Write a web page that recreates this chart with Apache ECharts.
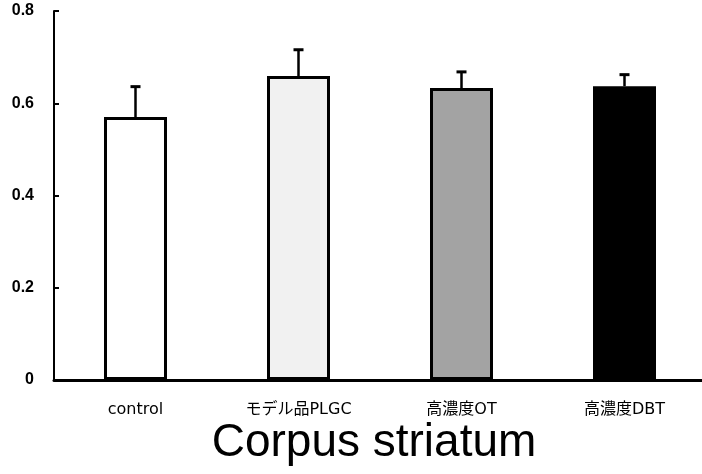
<!DOCTYPE html>
<meta charset="utf-8">
<title>Corpus striatum</title>
<style>
html, body { margin: 0; padding: 0; background: #fff; }
#main { width: 702px; height: 474px; }
</style>
<body>
<div id="main"></div>
<script src="https://cdn.jsdelivr.net/npm/echarts@6/dist/echarts.min.js"></script>
<script>
// data
var categories = ['control', 'モデル品PLGC', '高濃度OT', '高濃度DBT'];
var means = [0.570, 0.659, 0.633, 0.637];
var errTops = [0.636, 0.716, 0.668, 0.662];
var yTicks = [0, 0.2, 0.4, 0.6, 0.8];
var barFills = ['#ffffff', '#f1f1f1', '#a3a3a3', '#000000'];

var chart = echarts.init(document.getElementById('main'));

var option = {
  animation: false,
  backgroundColor: '#fff',
  title: {
    text: 'Corpus striatum',
    left: 369,
    top: 415,
    textAlign: 'center',
    textStyle: {
      fontFamily: 'Liberation Sans',
      fontSize: 46,
      fontWeight: 'normal',
      color: '#000'
    }
  },
  grid: {
    left: 54,
    right: -4,
    top: 11,
    bottom: 94,
    outerBoundsMode: 'none'
  },
  xAxis: {
    type: 'category',
    data: categories,
    axisLine: { lineStyle: { color: '#000', width: 3 } },
    axisTick: { inside: true, length: 5, lineStyle: { color: '#000', width: 2 } },
    axisLabel: {
      margin: 22,
      fontFamily: 'DejaVu Sans, Noto Sans CJK JP',
      fontSize: 16,
      color: '#000'
    }
  },
  yAxis: {
    type: 'value',
    min: yTicks[0],
    max: yTicks[yTicks.length - 1],
    interval: 0.2,
    splitLine: { show: false },
    axisLine: { show: true, lineStyle: { color: '#000', width: 2 } },
    axisTick: { show: true, inside: true, length: 5, lineStyle: { color: '#000', width: 2 } },
    axisLabel: {
      margin: 20,
      fontFamily: 'Liberation Sans',
      fontSize: 16,
      fontWeight: 'bold',
      color: '#000',
      formatter: function (v) { return v === 0 ? '0' : v.toFixed(1); }
    }
  },
  series: [
    {
      type: 'bar',
      barWidth: 63,
      data: means.map(function (v, i) {
        return {
          value: v,
          itemStyle: { color: barFills[i], borderColor: '#000', borderWidth: 3 }
        };
      }),
      z: 2
    },
    {
      type: 'custom',
      z: 3,
      data: categories.map(function (c, i) { return [i, means[i], errTops[i]]; }),
      renderItem: function (params, api) {
        var base = api.coord([api.value(0), api.value(1)]);
        var top = api.coord([api.value(0), api.value(2)]);
        var half = 5;
        return {
          type: 'group',
          children: [
            {
              type: 'line',
              shape: { x1: base[0], y1: base[1], x2: top[0], y2: top[1] },
              style: { stroke: '#000', lineWidth: 2.5 }
            },
            {
              type: 'line',
              shape: { x1: top[0] - half, y1: top[1], x2: top[0] + half, y2: top[1] },
              style: { stroke: '#000', lineWidth: 3 }
            }
          ]
        };
      }
    }
  ]
};

chart.setOption(option);
</script>
</body>
